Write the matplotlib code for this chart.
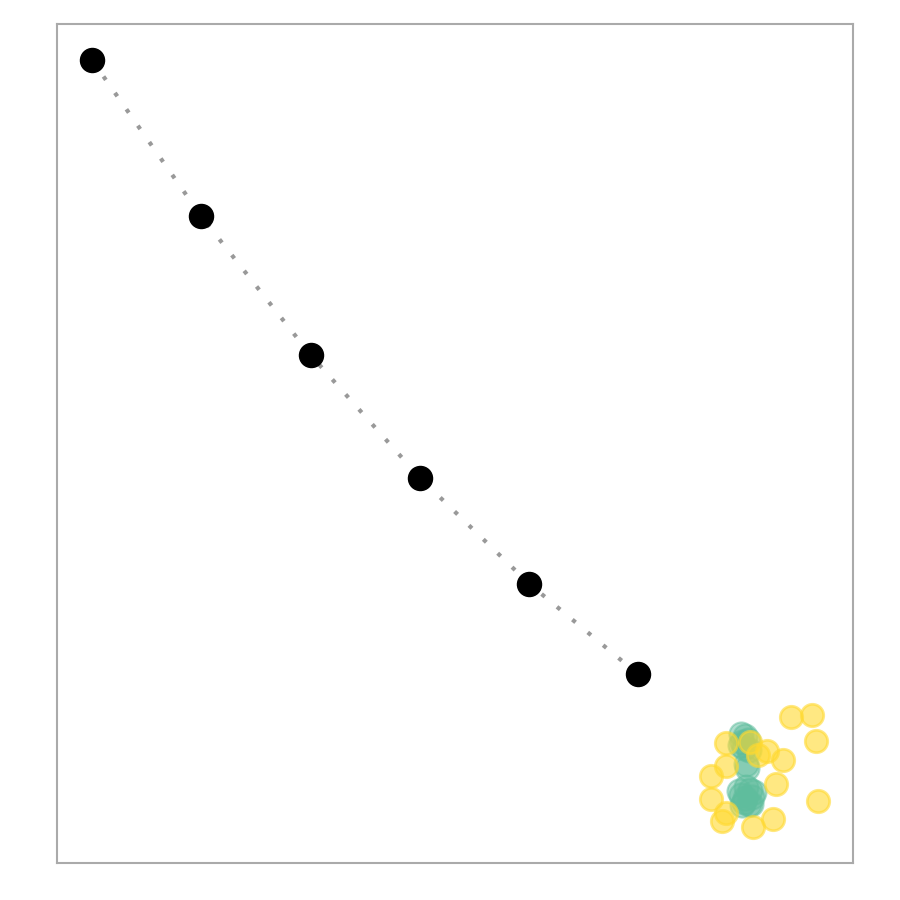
import matplotlib
matplotlib.use("Agg")
import matplotlib.pyplot as plt

path_x = [0.044, 0.181, 0.319, 0.456, 0.593, 0.730]
path_y = [0.957, 0.771, 0.605, 0.459, 0.333, 0.225]

yellow_x = [0.922, 0.949, 0.954, 0.840, 0.892, 0.881, 0.912, 0.840, 0.821, 0.903,
            0.821, 0.956, 0.841, 0.835, 0.899, 0.874, 0.871]
yellow_y = [0.174, 0.176, 0.145, 0.143, 0.133, 0.129, 0.123, 0.116, 0.104, 0.094,
            0.076, 0.074, 0.060, 0.050, 0.053, 0.043, 0.144]

teal_x = [0.859, 0.864, 0.868, 0.858, 0.863, 0.869, 0.861, 0.866, 0.867,
          0.866, 0.871, 0.859, 0.873, 0.863, 0.869, 0.864, 0.857, 0.875, 0.860, 0.872]
teal_y = [0.154, 0.151, 0.147, 0.141, 0.137, 0.135, 0.144, 0.118, 0.113,
          0.091, 0.087, 0.081, 0.079, 0.073, 0.070, 0.077, 0.086, 0.085, 0.069, 0.070]

fig = plt.figure(figsize=(9, 9), dpi=100)
ax = fig.add_axes([57/900, 37/900, 796/900, 839/900])

ax.scatter(teal_x, teal_y, s=300, color="#5fbd9d", alpha=0.5, edgecolors="#5fbd9d",
           linewidths=1.5, zorder=2)
ax.scatter(yellow_x, yellow_y, s=260, color="#ffd92f", alpha=0.6, edgecolors="#ffd92f",
           linewidths=2, zorder=3)
ax.plot(path_x, path_y, linestyle=(0, (1, 3.8)), color="#999999", linewidth=3,
        zorder=4)
ax.scatter(path_x, path_y, s=300, color="black", zorder=5)

ax.set_xlim(0, 1)
ax.set_ylim(0, 1)
ax.set_xticks([])
ax.set_yticks([])
for sp in ax.spines.values():
    sp.set_color("#aaaaaa")
    sp.set_linewidth(1.5)

fig.savefig("out.png", dpi=100)
